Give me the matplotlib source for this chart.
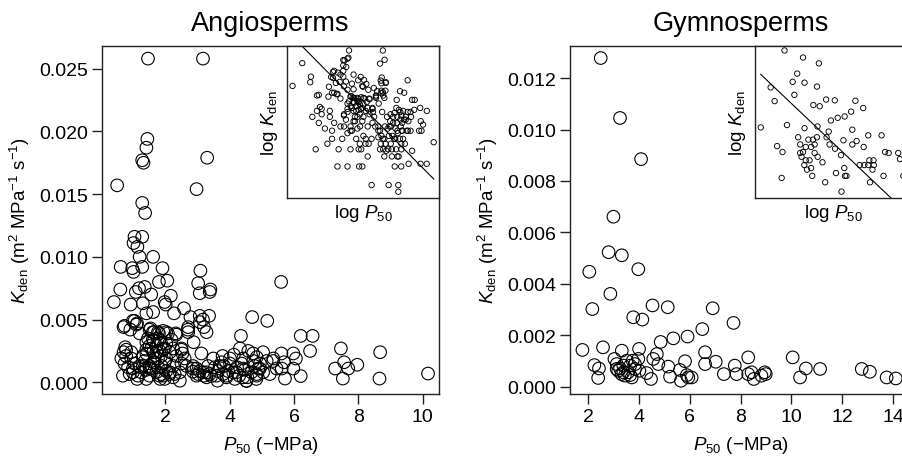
import numpy as np
import matplotlib
matplotlib.use("Agg")
import matplotlib.pyplot as plt

plt.rcParams['font.family'] = ['Liberation Sans', 'DejaVu Sans']
plt.rcParams['mathtext.fontset'] = 'custom'
plt.rcParams['mathtext.rm'] = 'Liberation Sans'
plt.rcParams['mathtext.it'] = 'Liberation Sans:italic'
plt.rcParams['mathtext.bf'] = 'Liberation Sans:bold'

# ---------------- data ----------------
angio_p50 = [
    1.46, 3.17, 1.44, 1.41, 1.28, 1.32, 3.30, 0.50, 2.97, 1.28, 1.37, 1.28, 1.04, 1.01, 1.13,
    1.62, 1.20, 0.61, 0.97, 1.01, 1.28, 1.91, 3.09, 5.60, 0.60, 3.02, 3.07, 3.40, 3.38, 1.80,
    2.06, 1.18, 1.36, 1.08, 1.56, 2.17, 0.40, 0.92, 1.30, 1.98, 2.01, 2.58, 1.41, 1.62, 2.27,
    2.78, 3.07, 3.36, 3.17, 4.70, 5.17, 1.04, 1.12, 0.70, 0.91, 1.20, 1.54, 1.65, 1.80, 1.93,
    2.08, 2.32, 2.71, 2.71, 2.88, 3.20, 3.28, 4.35, 6.21, 6.58, 1.46, 1.64, 1.72, 2.03, 0.75,
    0.70, 0.78, 0.63, 0.94, 1.30, 1.41, 1.56, 1.82, 2.14, 2.24, 2.50, 2.53, 2.60, 3.12, 4.32,
    4.58, 4.73, 5.04, 5.61, 5.98, 6.06, 6.50, 7.46, 8.68, 3.49, 3.78, 4.01, 4.13, 4.42, 4.84,
    5.15, 5.36, 5.69, 5.46, 5.72, 5.98, 6.21, 7.28, 7.56, 7.69, 7.97, 7.52, 8.66, 10.17, 3.82,
    4.01, 3.64, 3.62, 3.43, 3.28, 3.07, 2.97, 2.86, 3.02, 3.20, 3.80, 4.11, 4.23, 4.37, 4.47,
    4.55, 4.52, 4.68, 4.89, 5.04, 4.84, 4.30, 2.45, 2.29, 2.14, 1.93, 1.84, 1.72, 1.51, 1.41,
    1.30, 1.15, 1.12, 0.99, 0.89, 0.68, 0.84, 0.73, 1.04, 1.36, 1.62, 1.77, 1.98, 2.24, 2.50,
    1.77, 1.56, 2.03, 1.62, 1.87, 1.98, 1.67, 1.51, 1.41, 1.77, 1.87, 1.51, 1.87, 1.98, 1.41,
    2.66, 2.86, 3.33, 3.54, 3.75, 3.95, 3.90, 4.16, 4.78, 4.94, 4.83, 5.25, 3.28,
    0.73, 0.99, 1.10, 1.51, 1.61, 1.77, 1.61, 1.82, 2.03, 2.19, 2.34, 2.70, 3.07, 0.78, 0.94,
    1.30, 1.41, 1.72, 1.93, 2.03, 2.34, 2.50, 0.99, 1.25, 1.51, 1.82, 2.13, 2.45, 2.86, 2.97,
    3.17, 3.38, 1.20, 1.67, 1.88, 2.24,
    3.69, 4.42, 4.73, 4.94, 5.35, 5.62, 3.59, 3.90, 4.21, 4.42, 4.52, 4.84,
]
angio_kden = [
    0.0258, 0.0258, 0.0194, 0.0187, 0.0177, 0.0175, 0.0179, 0.0157, 0.0154, 0.0143, 0.0135, 0.0116, 0.0116, 0.0111, 0.0108,
    0.0100, 0.0100, 0.0092, 0.0091, 0.0088, 0.0092, 0.0091, 0.0089, 0.0080, 0.0074, 0.0079, 0.0071, 0.0074, 0.0072, 0.0080,
    0.0081, 0.0075, 0.0076, 0.0072, 0.0070, 0.0069, 0.0064, 0.0062, 0.0063, 0.0064, 0.0062, 0.0059, 0.0055, 0.0056, 0.0055,
    0.0052, 0.0053, 0.0053, 0.0050, 0.0052, 0.0049, 0.0049, 0.0047, 0.0044, 0.0042, 0.0039, 0.0043, 0.0040, 0.0039, 0.0041,
    0.0039, 0.0039, 0.0044, 0.0040, 0.0032, 0.0044, 0.0040, 0.0037, 0.0037, 0.0037, 0.0035, 0.0033, 0.0029, 0.0031, 0.0028,
    0.0024, 0.0021, 0.0019, 0.0024, 0.0020, 0.0023, 0.0027, 0.0025, 0.0024, 0.0027, 0.0027, 0.0023, 0.0019, 0.0023, 0.0027,
    0.0025, 0.0023, 0.0024, 0.0023, 0.0023, 0.0019, 0.0025, 0.0027, 0.0024, 0.0019, 0.0021, 0.0019, 0.0022, 0.0019, 0.0020,
    0.0017, 0.0019, 0.0016, 0.0011, 0.0003, 0.0011, 0.0005, 0.0011, 0.0016, 0.0011, 0.0014, 0.0003, 0.0003, 0.0007, 0.0013,
    0.0015, 0.0009, 0.00013, 0.0005, 0.0008, 0.0009, 0.0011, 0.00085, 0.00066, 0.00053, 0.00066, 0.0008, 0.0012, 0.0015, 0.0010,
    0.0004, 0.0001, 0.0008, 0.0011, 0.0008, 0.00053, 0.00053, 0.00013, 0.00066, 0.0008, 0.00053, 0.00027, 0.0008, 0.00053, 0.0010,
    0.0013, 0.00053, 0.00027, 0.0008, 0.00066, 0.00053, 0.0012, 0.0015, 0.0015, 0.0017, 0.0016, 0.0019, 0.0016, 0.0013, 0.0015,
    0.0012, 0.0011, 0.0009, 0.0024, 0.0021, 0.0027, 0.0019, 0.0029, 0.0032, 0.0035, 0.0031, 0.0013, 0.00066, 0.00027, 0.00027,
    0.0013, 0.0013, 0.0013, 0.0012, 0.0016, 0.0009, 0.00053, 0.00027, 0.0013, 0.0015, 0.00027, 0.00066, 0.0004,
    0.0045, 0.0049, 0.0046, 0.0042, 0.0040, 0.0040, 0.0034, 0.0034, 0.0040, 0.0034, 0.0038, 0.0042, 0.0048, 0.0026, 0.0019,
    0.0021, 0.0026, 0.0024, 0.0026, 0.0019, 0.0021, 0.0026, 0.0011, 0.0008, 0.0011, 0.00053, 0.00066, 0.0008, 0.0011, 0.00053,
    0.0008, 0.00066, 0.0013, 0.0016, 0.0013, 0.0004,
    0.0013, 0.0011, 0.0017, 0.0011, 0.0017, 0.0011, 0.00053, 0.0004, 0.0008, 0.0004, 0.00013, 0.00066,
]

gymno_p50 = [
    2.49, 3.25, 4.08, 2.99, 2.80, 3.32, 2.04, 3.97, 2.87, 2.16, 4.53, 5.13, 6.90, 3.77, 4.13,
    7.72, 6.49, 5.91, 5.35, 4.85, 1.77, 2.58, 3.32, 4.00, 4.70, 6.60, 2.24, 2.42, 2.39, 3.03,
    3.12, 3.18, 3.38, 3.51, 3.65, 3.75, 3.84, 3.97, 4.01, 3.65, 3.44, 3.31, 3.25, 3.71, 3.57,
    4.30, 4.47, 4.56, 4.76, 5.15, 5.22, 5.61, 5.65, 5.81, 5.88, 5.94, 6.07, 6.60, 7.02, 7.34,
    7.77, 7.84, 8.30, 8.30, 8.43, 8.52, 8.82, 8.95, 8.99, 10.05, 10.57, 10.34, 11.13, 12.77, 13.09,
    13.75, 14.11, 3.12, 3.38, 3.84,
]
gymno_kden = [
    0.01278, 0.01045, 0.00885, 0.00661, 0.00523, 0.00511, 0.00447, 0.00457, 0.00361, 0.00302, 0.00316, 0.00309, 0.00305, 0.00270, 0.00261,
    0.00248, 0.00224, 0.00195, 0.00188, 0.00174, 0.00143, 0.00153, 0.00140, 0.00147, 0.00127, 0.00134, 0.00084, 0.00071, 0.00034, 0.00108,
    0.00088, 0.00062, 0.00056, 0.00101, 0.00082, 0.00101, 0.00069, 0.00108, 0.00062, 0.00045, 0.00043, 0.00049, 0.00071, 0.00036, 0.00056,
    0.00053, 0.00030, 0.00108, 0.00088, 0.00078, 0.00039, 0.00065, 0.00023, 0.00099, 0.00045, 0.00036, 0.00036, 0.00088, 0.00097, 0.00049,
    0.00082, 0.00049, 0.00114, 0.00049, 0.00056, 0.00030, 0.00043, 0.00056, 0.00049, 0.00114, 0.00071, 0.00036, 0.00069, 0.00069, 0.00058,
    0.00036, 0.00032, 0.00069, 0.00082, 0.00088,
]

# fitted lines in the insets: log10(Kden) = intercept + slope * log10(P50)
angio_fit_intercept, angio_fit_slope = -2.04, -1.73
gymno_fit_intercept, gymno_fit_slope = -1.724, -1.878

y_ticks_angio = [0.000, 0.005, 0.010, 0.015, 0.020, 0.025]
y_ticks_gymno = [0.000, 0.002, 0.004, 0.006, 0.008, 0.010, 0.012]
x_ticks_angio = [2, 4, 6, 8, 10]
x_ticks_gymno = [2, 4, 6, 8, 10, 12, 14]

# ---------------- figure ----------------
W, H = 903, 460
fig = plt.figure(figsize=(W / 100, H / 100), dpi=100)


def px_axes(l, t, r, b, **kw):
    return fig.add_axes([l / W, 1 - b / H, (r - l) / W, (b - t) / H], **kw)


EDGE = '#222222'
ylab = r'$\mathit{K}_{\mathrm{den}}$ (m$^{2}$ MPa$^{-1}$ s$^{-1}$)'
xlab = r'$\mathit{P}_{50}$ (−MPa)'


def style_main(ax):
    for s in ax.spines.values():
        s.set_color(EDGE)
        s.set_linewidth(1.0)
    ax.tick_params(direction='out', length=7, width=1.0, color=EDGE,
                   labelsize=14, pad=3)


def panel(main_rect, inset_rect, p50, kden, xlim, ylim, xt, yt, title,
          fit_b, fit_m, ilim_x, ilim_y):
    ax = px_axes(*main_rect)
    ax.scatter(p50, kden, s=82, facecolors='none', edgecolors='black',
               linewidths=0.8, clip_on=False, zorder=2)
    ax.set_xlim(*xlim)
    ax.set_ylim(*ylim)
    ax.set_xticks(xt)
    ax.set_yticks(yt)
    ax.set_yticklabels([f'{v:.3f}' for v in yt])
    style_main(ax)
    ax.set_title(title, fontsize=19.5, pad=11)
    ax.set_xlabel(xlab, fontsize=13.5)
    ax.set_ylabel(ylab, fontsize=13.5)
    ax.xaxis.set_label_coords(0.5, -0.115)
    ax.yaxis.set_label_coords(-0.205, 0.5)

    ins = px_axes(*inset_rect, zorder=5)
    ins.set_facecolor('white')
    lp = np.log10(np.asarray(p50))
    lk = np.log10(np.asarray(kden))
    ins.scatter(lp, lk, s=15, facecolors='none', edgecolors='black', linewidths=0.65)
    xs = np.array([lp.min(), lp.max()])
    ins.plot(xs, fit_b + fit_m * xs, color='black', lw=0.8)
    ins.set_xlim(*ilim_x)
    ins.set_ylim(*ilim_y)
    ins.set_xticks([])
    ins.set_yticks([])
    for s in ins.spines.values():
        s.set_color(EDGE)
        s.set_linewidth(1.0)
    ins.set_xlabel(r'log $\mathit{P}_{50}$', fontsize=13.5, labelpad=3)
    ins.set_ylabel(r'log $\mathit{K}_{\mathrm{den}}$', fontsize=13.5, labelpad=5)
    return ax


panel((101.7, 46.7, 439.3, 395), (286.7, 46.7, 439.3, 199),
      angio_p50, angio_kden, (0.02, 10.52), (-0.00093, 0.02683),
      x_ticks_angio, y_ticks_angio, 'Angiosperms',
      angio_fit_intercept, angio_fit_slope, (-0.456, 1.063), (-4.107, -1.507))

panel((570, 46.7, 911, 395), (755, 46.7, 911, 199),
      gymno_p50, gymno_kden, (1.28, 14.71), (-0.000284, 0.01326),
      x_ticks_gymno, y_ticks_gymno, 'Gymnosperms',
      gymno_fit_intercept, gymno_fit_slope, (0.212, 1.186), (-3.717, -1.835))

fig.savefig('out.png', dpi=100)
